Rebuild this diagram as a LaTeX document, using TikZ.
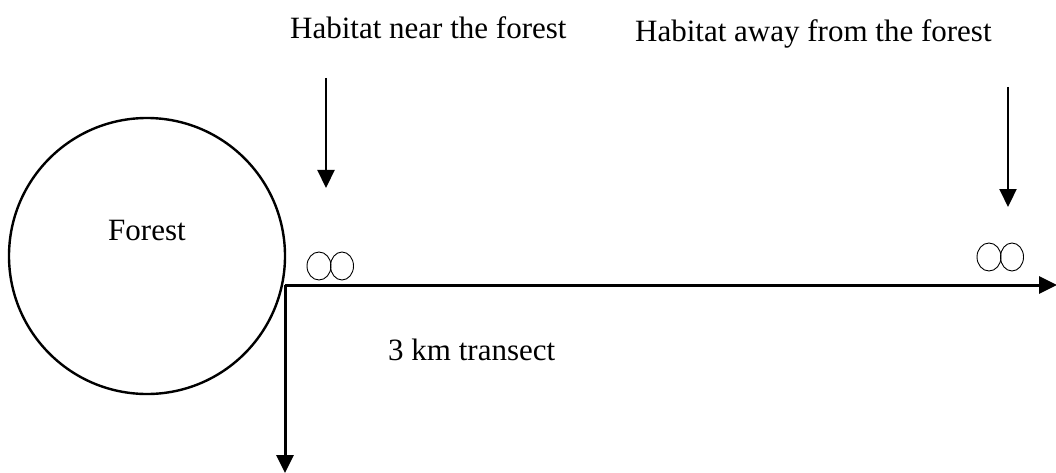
\documentclass[tikz,border=0pt]{standalone}
\usepackage{fontspec}
\setmainfont{Liberation Serif}
\usetikzlibrary{arrows.meta,shapes.geometric}
\begin{document}
\begin{tikzpicture}[x=1pt,y=-1pt,
  label text/.style={inner sep=0pt,anchor=base west,font=\fontsize{31}{37}\selectfont},
  main line/.style={line width=3pt,-{Triangle[width=17pt,length=18pt]}},
  pointer/.style={line width=2.2pt,-{Triangle[width=17pt,length=18pt]}},
  trap/.style={draw,ellipse,line width=0.9pt,minimum height=28pt,inner sep=0pt}]
\useasboundingbox (0,0) rectangle (1056,473);

% forest patch
\node[draw,circle,line width=2.4pt,minimum size=276pt,inner sep=0pt] (forest) at (147,256) {};
\node[label text] (forestlbl) at (108,240) {Forest};

% transect axes
\coordinate (origin) at (285,285);
\coordinate (transectend) at (1057,285);
\coordinate (sideend) at (285,473);
\draw[main line] (origin) -- (transectend);
\draw[main line] (origin) -- (sideend);
\node[label text] (transectlbl) at (388,360) {3 km transect};

% sampling traps near the forest
\node[trap,minimum width=24pt] (nearA) at (319,266) {};
\node[trap,minimum width=23pt] (nearB) at (342,266) {};
% sampling traps away from the forest
\node[trap,minimum width=24pt] (farA) at (989,257) {};
\node[trap,minimum width=23pt] (farB) at (1012,257) {};

% habitat labels and pointers
\node[label text] (nearlbl) at (290,39) {Habitat near the forest};
\node[label text] (farlbl) at (635,42) {Habitat away from the forest};
\coordinate (nearstart) at (326,78);
\coordinate (nearend) at (326,188);
\coordinate (farstart) at (1008,87);
\coordinate (farend) at (1008,207);
\draw[pointer] (nearstart) -- (nearend);
\draw[pointer] (farstart) -- (farend);
\end{tikzpicture}
\end{document}
